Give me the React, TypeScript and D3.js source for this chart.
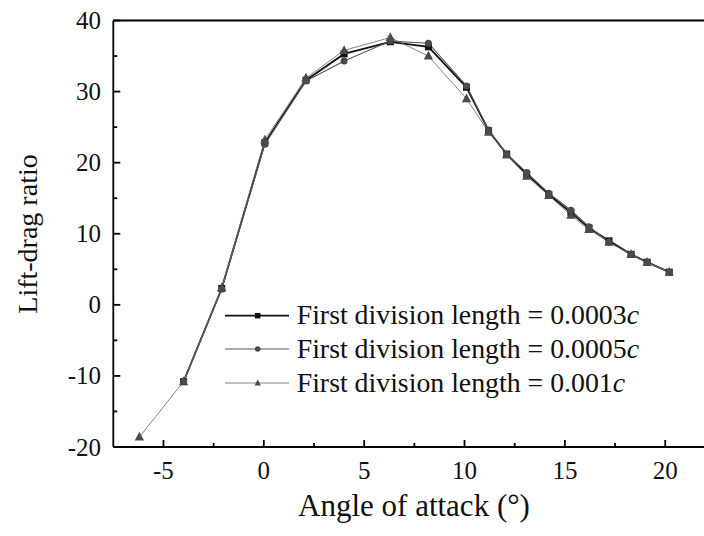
import React from "react";
import * as d3 from "d3";

const angles = [-6.2, -4.0, -2.1, 0.05, 2.1, 4.0, 6.3, 8.2, 10.1, 11.2, 12.1, 13.1, 14.2, 15.3, 16.2, 17.2, 18.3, 19.1, 20.2];
const seriesSquare = [null, -10.8, 2.3, 22.8, 31.6, 35.3, 37.0, 36.3, 30.6, 24.5, 21.2, 18.4, 15.5, 13.0, 10.8, 9.0, 7.1, 6.0, 4.6];
const seriesCircle = [null, -10.8, 2.2, 22.6, 31.5, 34.3, 37.1, 36.8, 30.8, 24.6, 21.2, 18.6, 15.7, 13.3, 11.0, 8.8, 7.1, 6.0, 4.6];
const seriesTriangle = [-18.6, -10.8, 2.4, 23.2, 31.9, 35.8, 37.6, 35.0, 29.0, 24.3, 21.1, 18.1, 15.4, 12.6, 10.6, 8.8, 7.1, 6.0, 4.6];
const legendLabels = ["First division length = 0.0003", "First division length = 0.0005", "First division length = 0.001"];
const xTicks = [-5, 0, 5, 10, 15, 20];
const xMinor = [-2.5, 2.5, 7.5, 12.5, 17.5];
const yTicks = [-20, -10, 0, 10, 20, 30, 40];
const yMinor = [-15, -5, 5, 15, 25, 35];

const W = 704, H = 536;
const x = d3.scaleLinear().domain([-7.5, 22.5]).range([113.3, 715.4]);
const y = d3.scaleLinear().domain([-20, 40]).range([447, 20.5]);
const FONT = '"Liberation Serif", "DejaVu Serif", serif';

type Pt = { a: number; v: number };
const toPts = (vals: (number | null)[]): Pt[] =>
  angles.map((a, i) => ({ a, v: vals[i] as number })).filter((p) => p.v !== null && p.v !== undefined);

const line = d3.line<Pt>().x((d) => x(d.a)).y((d) => y(d.v));

const styles = [
  { vals: seriesSquare, stroke: "#111", sw: 1.8, fill: "#111", shape: "square" },
  { vals: seriesCircle, stroke: "#555", sw: 1.1, fill: "#4a4a4a", shape: "circle" },
  { vals: seriesTriangle, stroke: "#666", sw: 0.8, fill: "#4a4a4a", shape: "triangle" },
];

function Marker({ cx, cy, shape, fill, s }: { cx: number; cy: number; shape: string; fill: string; s: number }) {
  if (shape === "square") return <rect x={cx - s / 2} y={cy - s / 2} width={s} height={s} fill={fill} />;
  if (shape === "circle") return <circle cx={cx} cy={cy} r={s / 2} fill={fill} />;
  const h = s * 1.05;
  return (
    <polygon
      points={`${cx},${cy - h * 0.62} ${cx - s * 0.58},${cy + h * 0.42} ${cx + s * 0.58},${cy + h * 0.42}`}
      fill={fill}
    />
  );
}

export default function App() {
  const legendRows = [315.7, 349, 383];
  const txt = { fontFamily: FONT };
  return (
    <svg width={W} height={H} style={{ display: "block", position: "absolute", left: 0, top: 0, background: "#fff", overflow: "hidden" }}>
      <rect width={W} height={H} fill="#fff" />
      {styles.map((s, i) => (
        <path key={"l" + i} d={line(toPts(s.vals)) || ""} fill="none" stroke={s.stroke} strokeWidth={s.sw} />
      ))}
      {styles.map((s, i) =>
        toPts(s.vals).map((p, j) => (
          <Marker key={`m${i}-${j}`} cx={x(p.a)} cy={y(p.v)} shape={s.shape} fill={s.fill} s={s.shape === "triangle" ? 8 : 7} />
        ))
      )}
      <g stroke="#000" strokeWidth={1.8} fill="none">
        <line x1={x(-7.5)} x2={x(-7.5)} y1={y(40)} y2={y(-20)} />
        <line x1={x(-7.5)} x2={x(22.5)} y1={y(-20)} y2={y(-20)} />
        <line x1={x(-7.5)} x2={x(22.5)} y1={y(40)} y2={y(40)} />
        {xTicks.map((t) => (
          <line key={"xt" + t} x1={x(t)} x2={x(t)} y1={y(-20)} y2={y(-20) - 7} />
        ))}
        {xMinor.map((t) => (
          <line key={"xm" + t} x1={x(t)} x2={x(t)} y1={y(-20)} y2={y(-20) - 4} />
        ))}
        {yTicks.map((t) => (
          <line key={"yt" + t} x1={x(-7.5)} x2={x(-7.5) + 7} y1={y(t)} y2={y(t)} />
        ))}
        {yMinor.map((t) => (
          <line key={"ym" + t} x1={x(-7.5)} x2={x(-7.5) + 4} y1={y(t)} y2={y(t)} />
        ))}
      </g>
      <g style={txt} fontSize={25} fill="#111">
        {xTicks.map((t) => (
          <text key={"xl" + t} x={x(t)} y={478.5} textAnchor="middle" style={txt}>
            {t}
          </text>
        ))}
        {yTicks.map((t) => (
          <text key={"yl" + t} x={101} y={y(t) + 8.5} textAnchor="end" style={txt}>
            {t}
          </text>
        ))}
      </g>
      <text x={414} y={516} textAnchor="middle" style={txt} fontSize={31} fill="#111">
        Angle of attack (°)
      </text>
      <text transform={`translate(37,${234}) rotate(-90)`} textAnchor="middle" style={txt} fontSize={28} fill="#111">
        Lift-drag ratio
      </text>
      {styles.map((s, i) => (
        <g key={"lg" + i}>
          <line x1={225} x2={289} y1={legendRows[i]} y2={legendRows[i]} stroke={s.stroke} strokeWidth={s.sw} />
          <Marker cx={257.7} cy={legendRows[i]} shape={s.shape} fill={s.fill} s={5.5} />
          <text x={296.7} y={legendRows[i] + 8.5} style={txt} fontSize={27.8} fill="#111">
            {legendLabels[i]}
            <tspan fontStyle="italic">c</tspan>
          </text>
        </g>
      ))}
    </svg>
  );
}
